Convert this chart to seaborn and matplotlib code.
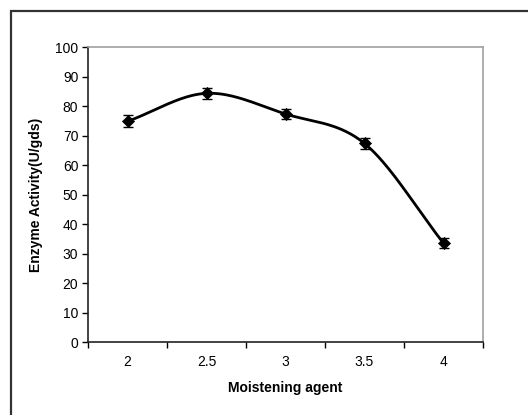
import numpy as np
import pandas as pd
import matplotlib
matplotlib.use("Agg")
import matplotlib.pyplot as plt
from matplotlib.patches import Rectangle
from matplotlib.ticker import FixedLocator, NullFormatter
import seaborn as sns

# Data
categories = ["2", "2.5", "3", "3.5", "4"]
activity = [74.8, 84.3, 77.3, 67.3, 33.5]
error = [2.0, 1.8, 1.8, 1.8, 1.6]

sns.set_theme(style="white")
plt.rcParams["font.family"] = ["Liberation Sans", "DejaVu Sans"]

fig = plt.figure(figsize=(5.28, 4.15), dpi=100)
ax = fig.add_axes([88 / 528, 1 - 342 / 415, (483 - 88) / 528, (342 - 47) / 415])

# outer frame around the chart
fig.patches.append(Rectangle((10.5 / 528, -0.05), 1.2, 1 - 11.5 / 415 + 0.05,
                             transform=fig.transFigure, fill=False,
                             edgecolor="#333333", linewidth=1.6, zorder=0))

pos = np.arange(len(categories), dtype=float)
y = np.array(activity, dtype=float)

# smoothed line through the points (Catmull-Rom spline)
def catmull_rom(px, py, n=40):
    xs, ys = [], []
    P = np.column_stack([px, py])
    P = np.vstack([P[0] - (P[1] - P[0]), P, P[-1] + (P[-1] - P[-2])])
    for i in range(1, len(P) - 2):
        p0, p1, p2, p3 = P[i - 1], P[i], P[i + 1], P[i + 2]
        t = np.linspace(0, 1, n, endpoint=(i == len(P) - 3))[:, None]
        seg = 0.5 * ((2 * p1) + (-p0 + p2) * t + (2 * p0 - 5 * p1 + 4 * p2 - p3) * t ** 2
                     + (-p0 + 3 * p1 - 3 * p2 + p3) * t ** 3)
        xs.append(seg[:, 0]); ys.append(seg[:, 1])
    return np.concatenate(xs), np.concatenate(ys)

sx, sy = catmull_rom(pos, y)
curve = pd.DataFrame({"x": sx, "y": sy})
sns.lineplot(data=curve, x="x", y="y", ax=ax, color="black", linewidth=2.0,
             sort=False, estimator=None)

ax.errorbar(pos, y, yerr=error, fmt="none", ecolor="black", elinewidth=1.0,
            capsize=3.3, capthick=1.0, zorder=3)
pts = pd.DataFrame({"x": pos, "y": y})
sns.scatterplot(data=pts, x="x", y="y", ax=ax, marker="D", s=38, color="black",
                edgecolor="black", zorder=4)

ax.set_xlim(-0.5, len(categories) - 0.5)
ax.set_ylim(0, 100)
ax.set_yticks(np.arange(0, 101, 10))

# ticks at category boundaries, labels at category centres
ax.xaxis.set_major_locator(FixedLocator(np.arange(-0.5, len(categories), 1.0)))
ax.xaxis.set_major_formatter(NullFormatter())
ax.xaxis.set_minor_locator(FixedLocator(pos))
ax.set_xticklabels(categories, minor=True)
ax.tick_params(axis="x", which="major", direction="out", length=4, width=1, color="black", bottom=True)
ax.tick_params(axis="x", which="minor", length=0, pad=9, labelsize=10, labelcolor="black")
ax.tick_params(axis="y", direction="out", length=4, width=1, color="black", left=True,
               pad=3, labelsize=10, labelcolor="black")

for side in ["left", "bottom"]:
    ax.spines[side].set_color("#222222")
    ax.spines[side].set_linewidth(1.2)
for side in ["top", "right"]:
    ax.spines[side].set_color("#a0a0a0")
    ax.spines[side].set_linewidth(1.2)

ax.set_xlabel("Moistening agent", fontsize=10, fontweight="bold")
ax.set_ylabel("Enzyme Activity(U/gds)", fontsize=10, fontweight="bold")
ax.xaxis.set_label_coords(0.5, -(388 - 342) / 295, transform=ax.transAxes)
ax.xaxis.label.set_va("center")
ax.yaxis.set_label_coords(-(88 - 36) / 395, 0.5, transform=ax.transAxes)
ax.yaxis.label.set_va("center")
ax.xaxis.label.set_color("black")
ax.yaxis.label.set_color("black")

fig.savefig("out.png", dpi=100)
